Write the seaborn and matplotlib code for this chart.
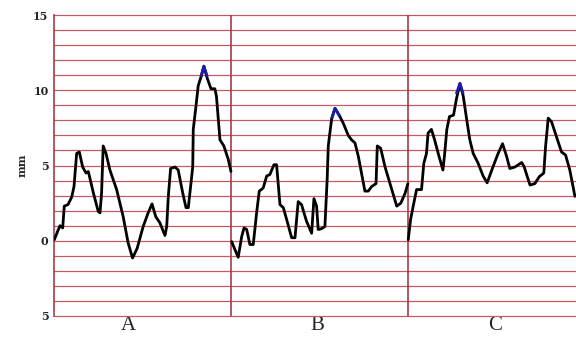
import numpy as np
import pandas as pd
import matplotlib
matplotlib.use("Agg")
import matplotlib.pyplot as plt
import seaborn as sns

# x is position within each panel (0-100), y is displacement in mm
a_t = [0.2, 2.3, 3.4, 4.9, 5.8, 7.9, 10.0, 11.3, 12.8, 14.3, 16.2, 18.1, 19.4, 22.2,
       25.0, 26.0, 26.9, 27.8, 29.4, 31.6, 35.4, 39.1, 41.9, 44.4, 47.0, 50.4, 53.2,
       55.4, 57.5, 59.8, 62.7, 63.7, 64.6, 65.9, 68.4, 70.2, 72.7, 74.6, 75.9, 77.2,
       78.4, 78.7, 80.0, 81.5, 83.1, 84.7, 86.6, 88.7, 90.9, 91.8, 93.8, 96.0, 98.5,
       100.0]
a_mm = [0.07, 0.7, 1.0, 0.85, 2.3, 2.4, 2.9, 3.6, 5.8, 5.9, 4.9, 4.5, 4.6, 3.2,
        1.95, 1.85, 3.2, 6.3, 5.8, 4.7, 3.4, 1.6, -0.15, -1.15, -0.5, 0.95, 1.85,
        2.45, 1.6, 1.2, 0.35, 0.95, 2.95, 4.8, 4.9, 4.7, 3.2, 2.2, 2.2, 3.6,
        4.9, 7.4, 8.7, 10.3, 10.9, 11.6, 10.8, 10.1, 10.1, 9.6, 6.7, 6.3, 5.4,
        4.6]

b_t = [0.4, 2.3, 4.1, 6.1, 7.4, 8.9, 10.7, 12.6, 14.5, 16.0, 18.2, 20.2, 22.0,
       24.3, 25.8, 27.7, 29.6, 31.5, 34.3, 36.2, 38.0, 39.9, 42.7, 45.6, 46.9,
       48.4, 49.3, 51.2, 53.1, 54.4, 55.0, 56.9, 58.8, 61.6, 63.5, 66.3, 68.2,
       70.1, 72.0, 75.7, 77.6, 79.5, 82.0, 82.7, 84.6, 87.1, 90.9, 93.7, 96.0,
       98.4, 100.0]
b_mm = [-0.05, -0.6, -1.1, 0.3, 0.85, 0.75, -0.25, -0.25, 1.85, 3.3, 3.5, 4.3,
        4.4, 5.05, 5.05, 2.4, 2.2, 1.4, 0.2, 0.2, 2.6, 2.4, 1.3, 0.5, 2.8,
        2.3, 0.75, 0.8, 0.95, 4.15, 6.3, 8.1, 8.8, 8.25, 7.8, 7.0, 6.7,
        6.5, 5.6, 3.3, 3.3, 3.6, 3.8, 6.3, 6.15, 4.9, 3.4, 2.3, 2.5,
        3.15, 3.8]

c_t = [0.2, 1.5, 3.0, 4.9, 7.7, 9.0, 10.5, 11.4, 13.3, 15.1, 17.6, 19.8, 20.8,
       22.0, 23.5, 25.8, 27.3, 29.4, 31.3, 33.1, 35.0, 36.9, 39.7, 42.5, 44.8,
       48.2, 51.0, 53.5, 55.8, 57.6, 60.5, 64.3, 65.6, 69.0, 71.8, 74.2, 76.8,
       77.8, 79.3, 81.2, 84.0, 86.8, 89.1, 91.5, 94.4]
c_mm = [0.07, 1.4, 2.3, 3.4, 3.4, 5.15, 5.8, 7.15, 7.4, 6.7, 5.6, 4.7, 5.8,
        7.4, 8.25, 8.35, 9.35, 10.45, 9.6, 8.15, 6.7, 5.8, 5.15, 4.3, 3.85,
        4.95, 5.8, 6.45, 5.6, 4.8, 4.9, 5.2, 4.95, 3.7, 3.8, 4.25, 4.5,
        6.25, 8.15, 7.9, 6.9, 5.9, 5.7, 4.7, 2.95]

panels = ["A", "B", "C"]
y_ticks = [-5, 0, 5, 10, 15]
y_tick_labels = ["5", "0", "5", "10", "15"]

grid_red = "#c55a62"
sep_red = "#a83a48"

frames = []
for i, (t, mm) in enumerate([(a_t, a_mm), (b_t, b_mm), (c_t, c_mm)]):
    frames.append(pd.DataFrame({"x": np.array(t) + 100 * i, "mm": mm, "panel": panels[i]}))
df = pd.concat(frames, ignore_index=True)

sns.set_style("white")
fig = plt.figure(figsize=(5.76, 3.44), dpi=100)
ax = fig.add_axes([54 / 576, 28 / 344, 1 - 54 / 576, 301 / 344])

# horizontal red ruling every 1 mm
for v in range(-5, 16):
    ax.axhline(v, color=grid_red, lw=0.9, zorder=1, clip_on=False)
for i in range(1, 3):
    ax.axvline(100 * i, color=sep_red, lw=1.2, zorder=1)

sns.lineplot(data=df, x="x", y="mm", units="panel", estimator=None, sort=False,
             color="black", lw=2.0, ax=ax, zorder=3)

# blue tip on each panel's peak
for p in panels:
    sub = df[df["panel"] == p].reset_index(drop=True)
    k = sub["mm"].idxmax()
    top = sub.loc[k - 1:k + 1]
    ax.plot(top["x"], np.maximum(top["mm"], sub["mm"][k] - 0.7), color="#1c1ca8",
            lw=2.0, zorder=4, solid_capstyle="butt")

ax.set_xlim(0, 295)
ax.set_ylim(-5, 15)
ax.set_yticks(y_ticks)
ax.set_yticklabels(y_tick_labels, fontsize=8, fontweight="bold", family="DejaVu Serif")
ax.set_xticks([42, 149, 249])
ax.set_xticklabels(panels, fontsize=15, family="Liberation Serif")
ax.tick_params(axis="both", length=0, pad=4)
ax.tick_params(axis="x", pad=0)
ax.set_xlabel("")
ax.set_ylabel("mm", fontsize=8, fontweight="bold", family="DejaVu Serif", labelpad=4)
for s in ["top", "right", "bottom"]:
    ax.spines[s].set_visible(False)
ax.spines["left"].set_color(sep_red)
ax.spines["left"].set_linewidth(1.2)

fig.savefig("out.png", dpi=100)
